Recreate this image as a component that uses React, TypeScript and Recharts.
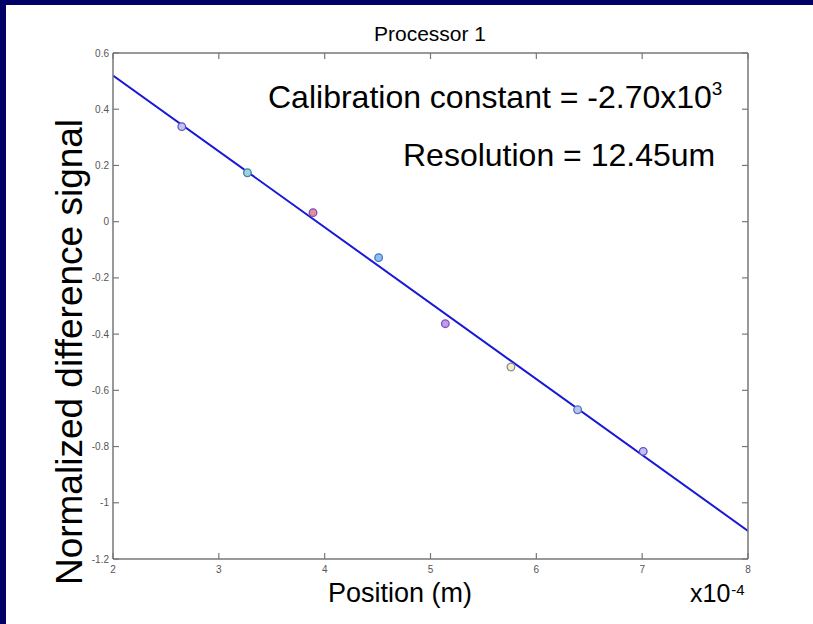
import React from 'react';
import { ComposedChart, Line, Scatter, XAxis, YAxis, Cell } from 'recharts';

// Measured positions (x 1e-4 m) and normalized difference signals
const positions = [2.65, 3.27, 3.89, 4.51, 5.14, 5.76, 6.39, 7.01];
const signals = [0.338, 0.174, 0.032, -0.128, -0.363, -0.517, -0.669, -0.817];
const pointFills = ['#c4c0f0', '#9fd0dc', '#f08a98', '#8cc0f0', '#c29ae6', '#f4f1bf', '#b4c6ee', '#c4c0f0'];
const pointStrokes = ['#5a56c8', '#3f7fb0', '#6a58c0', '#3f78c8', '#7a4ec8', '#8a8aa0', '#5a6cc0', '#5a56c8'];

// Linear fit end points
const fitX = [2, 8];
const fitY = [0.52, -1.1];

const xTicks = [2, 3, 4, 5, 6, 7, 8];
const yTicks = [0.6, 0.4, 0.2, 0, -0.2, -0.4, -0.6, -0.8, -1, -1.2];

const points = positions.map((x, i) => ({ x, y: signals[i] }));
const fitData = fitX.map((x, i) => ({ x, y: fitY[i] }));

const AXIS = '#777777';
const TICK_TEXT = '#555555';
const FONT = '"Liberation Sans", Arial, sans-serif';

const BottomTick = (props: any) => {
  const { x, y, payload } = props;
  return (
    <g>
      <line x1={x} y1={y} x2={x} y2={y - 6} stroke={AXIS} strokeWidth={1.2} />
      <text x={x} y={y + 14} textAnchor="middle" fontSize={10} fill={TICK_TEXT} fontFamily={FONT}>
        {payload.value}
      </text>
    </g>
  );
};

const LeftTick = (props: any) => {
  const { x, y, payload } = props;
  return (
    <g>
      <line x1={x} y1={y} x2={x + 6} y2={y} stroke={AXIS} strokeWidth={1.2} />
      <text x={x - 4} y={y + 3.5} textAnchor="end" fontSize={10} fill={TICK_TEXT} fontFamily={FONT}>
        {payload.value}
      </text>
    </g>
  );
};

const TopTick = (props: any) => {
  const { x, y } = props;
  return <line x1={x} y1={y} x2={x} y2={y + 6} stroke={AXIS} strokeWidth={1.2} />;
};

const RightTick = (props: any) => {
  const { x, y } = props;
  return <line x1={x} y1={y} x2={x - 6} y2={y} stroke={AXIS} strokeWidth={1.2} />;
};

const PointShape = (props: any) => {
  const { cx, cy, fill, stroke } = props;
  return <circle cx={cx} cy={cy} r={3.8} fill={fill} stroke={stroke} strokeWidth={1.3} />;
};

export default function App() {
  return (
    <div style={{ position: 'absolute', left: 0, top: 0, width: 813, height: 624, background: '#ffffff', overflow: 'hidden' }}>
      <div style={{ position: 'absolute', left: 0, top: 0, width: 813, height: 5, background: '#000066' }} />
      <div style={{ position: 'absolute', left: 0, top: 0, width: 6, height: 624, background: '#000066' }} />
      <div style={{ position: 'absolute', left: 0, top: 0 }}>
        <ComposedChart width={813} height={624} margin={{ top: 52, right: 64, bottom: 64, left: 112 }}>
          <XAxis
            xAxisId="bottom"
            type="number"
            dataKey="x"
            domain={[2, 8]}
            ticks={xTicks}
            interval={0}
            orientation="bottom"
            height={1}
            tickSize={0}
            tickMargin={0}
            tickLine={false}
            tick={<BottomTick />}
            axisLine={{ stroke: AXIS, strokeWidth: 1.5 }}
            allowDataOverflow
          />
          <XAxis
            xAxisId="top"
            type="number"
            dataKey="x"
            domain={[2, 8]}
            ticks={xTicks}
            interval={0}
            orientation="top"
            height={1}
            tickSize={0}
            tickMargin={0}
            tickLine={false}
            tick={<TopTick />}
            axisLine={{ stroke: AXIS, strokeWidth: 1.5 }}
            allowDataOverflow
          />
          <YAxis
            yAxisId="left"
            type="number"
            dataKey="y"
            domain={[-1.2, 0.6]}
            ticks={yTicks}
            interval={0}
            orientation="left"
            width={1}
            tickSize={0}
            tickMargin={0}
            tickLine={false}
            tick={<LeftTick />}
            axisLine={{ stroke: AXIS, strokeWidth: 1.5 }}
            allowDataOverflow
          />
          <YAxis
            yAxisId="right"
            type="number"
            dataKey="y"
            domain={[-1.2, 0.6]}
            ticks={yTicks}
            interval={0}
            orientation="right"
            width={1}
            tickSize={0}
            tickMargin={0}
            tickLine={false}
            tick={<RightTick />}
            axisLine={{ stroke: AXIS, strokeWidth: 1.5 }}
            allowDataOverflow
          />
          <Scatter
            xAxisId="top"
            yAxisId="right"
            data={points}
            shape={() => <g />}
            isAnimationActive={false}
            legendType="none"
          />
          <Line
            xAxisId="bottom"
            yAxisId="left"
            data={fitData}
            dataKey="y"
            stroke="#1818d8"
            strokeWidth={2}
            dot={false}
            activeDot={false}
            isAnimationActive={false}
          />
          <Scatter
            xAxisId="bottom"
            yAxisId="left"
            data={points}
            shape={<PointShape />}
            isAnimationActive={false}
          >
            {points.map((p, i) => (
              <Cell key={i} fill={pointFills[i]} stroke={pointStrokes[i]} />
            ))}
          </Scatter>
        </ComposedChart>
      </div>
      <svg width={813} height={624} style={{ position: 'absolute', left: 0, top: 0, pointerEvents: 'none' }}>
        <g fontFamily={FONT} fill="#000000">
          <text x={430} y={41} textAnchor="middle" fontSize={21}>Processor 1</text>
          <text x={268} y={108} fontSize={32}>
            Calibration constant = -2.70x10
            <tspan fontSize={19} dy={-13}>3</tspan>
          </text>
          <text x={403} y={166} fontSize={32}>Resolution = 12.45um</text>
          <text x={400} y={602} textAnchor="middle" fontSize={27}>Position (m)</text>
          <text x={690} y={602} fontSize={25}>
            x10
            <tspan fontSize={15} dx={1} dy={-7}>-4</tspan>
          </text>
          <text x={82} y={352} textAnchor="middle" fontSize={37} transform="rotate(-90 82 352)">
            Normalized difference signal
          </text>
        </g>
      </svg>
    </div>
  );
}
